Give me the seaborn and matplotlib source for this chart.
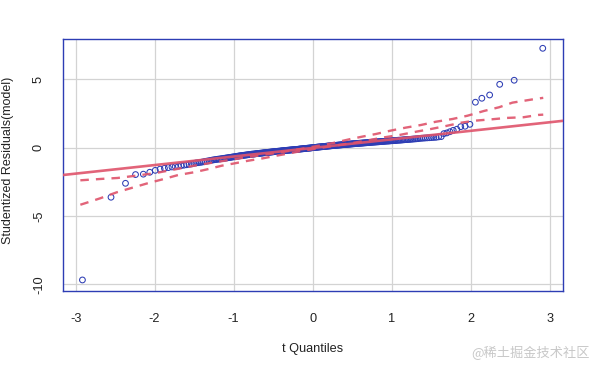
#!/usr/bin/env python3
"""
QQ plot of studentized residuals (t quantiles) with envelope
"""
import statistics
import numpy as np
import pandas as pd
import matplotlib
matplotlib.use('Agg')
import matplotlib.pyplot as plt
import seaborn as sns

# sorted studentized residuals
resid = [
    -9.69, -3.63, -2.61, -1.97, -1.94, -1.80, -1.66, -1.57, -1.51, -1.46,
    -1.41, -1.38, -1.35, -1.31, -1.28, -1.25, -1.22, -1.19, -1.15, -1.12,
    -1.10, -1.08, -1.06, -1.03, -1.00, -0.98, -0.96, -0.93, -0.91, -0.89,
    -0.87, -0.86, -0.84, -0.83, -0.81, -0.80, -0.78, -0.77, -0.75, -0.74,
    -0.72, -0.71, -0.70, -0.68, -0.67, -0.66, -0.64, -0.63, -0.62, -0.60,
    -0.59, -0.58, -0.57, -0.56, -0.55, -0.54, -0.53, -0.52, -0.51, -0.50,
    -0.49, -0.48, -0.47, -0.47, -0.46, -0.45, -0.44, -0.43, -0.43, -0.42,
    -0.41, -0.40, -0.40, -0.39, -0.38, -0.37, -0.37, -0.36, -0.35, -0.35,
    -0.34, -0.33, -0.33, -0.32, -0.31, -0.31, -0.30, -0.29, -0.29, -0.28,
    -0.28, -0.27, -0.26, -0.26, -0.25, -0.25, -0.24, -0.23, -0.23, -0.22,
    -0.22, -0.21, -0.21, -0.20, -0.19, -0.19, -0.18, -0.18, -0.17, -0.17,
    -0.16, -0.16, -0.15, -0.15, -0.14, -0.14, -0.13, -0.13, -0.12, -0.12,
    -0.11, -0.10, -0.10, -0.09, -0.09, -0.08, -0.08, -0.07, -0.07, -0.06,
    -0.05, -0.05, -0.04, -0.04, -0.03, -0.03, -0.02, -0.02, -0.01, 0.00,
    0.00, 0.01, 0.01, 0.02, 0.02, 0.03, 0.04, 0.04, 0.05, 0.05,
    0.06, 0.06, 0.07, 0.07, 0.08, 0.08, 0.09, 0.09, 0.10, 0.11,
    0.11, 0.12, 0.12, 0.13, 0.13, 0.14, 0.14, 0.15, 0.15, 0.16,
    0.16, 0.17, 0.17, 0.18, 0.18, 0.19, 0.19, 0.20, 0.20, 0.21,
    0.21, 0.22, 0.22, 0.23, 0.23, 0.24, 0.24, 0.25, 0.25, 0.26,
    0.26, 0.27, 0.27, 0.28, 0.28, 0.29, 0.29, 0.30, 0.30, 0.31,
    0.31, 0.32, 0.32, 0.33, 0.33, 0.34, 0.34, 0.35, 0.35, 0.36,
    0.36, 0.37, 0.37, 0.38, 0.39, 0.39, 0.40, 0.40, 0.41, 0.41,
    0.42, 0.42, 0.43, 0.43, 0.44, 0.45, 0.45, 0.46, 0.46, 0.47,
    0.48, 0.48, 0.49, 0.49, 0.50, 0.51, 0.51, 0.52, 0.52, 0.53,
    0.54, 0.55, 0.55, 0.56, 0.57, 0.58, 0.59, 0.59, 0.60, 0.61,
    0.62, 0.63, 0.64, 0.65, 0.66, 0.68, 0.69, 0.70, 0.71, 0.72,
    0.73, 0.74, 0.75, 0.76, 0.79, 0.81, 1.03, 1.08, 1.17, 1.27,
    1.35, 1.54, 1.57, 1.71, 3.33, 3.62, 3.86, 4.64, 4.94, 7.28,
]

# simulated 95% envelope (dashed)
upper_x = [-2.94, -2.68, -2.47, -2.26, -2.00, -1.75, -1.50, -1.25, -1.00, -0.75,
           -0.50, -0.25, 0.00, 0.25, 0.47, 0.63, 0.80, 0.99, 1.18, 1.37,
           1.56, 1.77, 1.96, 2.17, 2.36, 2.53, 2.82, 2.92]
upper_y = [-2.39, -2.29, -2.22, -2.07, -1.87, -1.60, -1.32, -1.08, -0.85, -0.63,
           -0.42, -0.19, 0.06, 0.33, 0.62, 0.81, 1.00, 1.25, 1.47, 1.66,
           1.90, 2.10, 2.34, 2.69, 2.96, 3.30, 3.57, 3.65]
lower_x = [-2.94, -2.88, -2.69, -2.48, -2.28, -2.09, -1.90, -1.70, -1.49, -1.33,
           -1.15, -0.98, -0.81, -0.63, -0.46, -0.29, -0.12, 0.10, 0.34, 0.53,
           0.72, 0.91, 1.10, 1.31, 1.50, 1.69, 1.88, 2.06, 2.27, 2.46,
           2.67, 2.86, 2.92]
lower_y = [-4.18, -4.07, -3.71, -3.27, -2.93, -2.61, -2.32, -2.00, -1.79, -1.58,
           -1.32, -1.14, -0.95, -0.78, -0.59, -0.41, -0.22, -0.02, 0.20, 0.37,
           0.56, 0.76, 0.93, 1.17, 1.37, 1.59, 1.83, 1.98, 2.08, 2.18,
           2.23, 2.40, 2.42]

# robust reference line: intercept, slope
line_coef = [-0.02, 0.627]

x_ticks = [-3, -2, -1, 0, 1, 2, 3]
y_ticks = [-10, -5, 0, 5]

BLUE = '#2d3db4'
RED = '#DF536B'

sns.set_theme(style='whitegrid')
plt.rcParams['font.family'] = ['Liberation Sans', 'DejaVu Sans']

n = len(resid)
nd = statistics.NormalDist()
tq = [nd.inv_cdf((i + 0.5) / n) for i in range(n)]
df = pd.DataFrame({'tq': tq, 'resid': np.sort(resid)})

fig = plt.figure(figsize=(5.93, 3.65), dpi=100)
ax = fig.add_axes([0.1062, 0.2027, 0.8432, 0.6904])

sns.scatterplot(data=df, x='tq', y='resid', ax=ax, marker='o', s=17,
                facecolor='none', edgecolor=BLUE, linewidth=0.75, zorder=3)

ax.axline((0, line_coef[0]), slope=line_coef[1], color=RED, lw=1.9,
          alpha=0.9, zorder=4)
sns.lineplot(x=upper_x, y=upper_y, ax=ax, color=RED, lw=1.7, alpha=0.9,
             linestyle=(0, (3.6, 3.0)), estimator=None, sort=False, zorder=4)
sns.lineplot(x=lower_x, y=lower_y, ax=ax, color=RED, lw=1.7, alpha=0.9,
             linestyle=(0, (3.6, 3.0)), estimator=None, sort=False, zorder=4)

ax.set_xlim(-3.16, 3.17)
ax.set_ylim(-10.5, 7.96)
ax.set_xticks(x_ticks)
ax.set_yticks(y_ticks)
ax.set_xticklabels([str(t) for t in x_ticks])
ax.set_yticklabels([str(t) for t in y_ticks], rotation=90, va='center')

ax.grid(True, color='#d3d3d3', lw=0.9)
for sp in ax.spines.values():
    sp.set_visible(True)
    sp.set_color(BLUE)
    sp.set_linewidth(1.0)
ax.tick_params(axis='both', direction='out', length=7, width=1.0,
               color=BLUE, labelcolor='#222222', labelsize=9.2)
ax.tick_params(axis='x', pad=9)
ax.tick_params(axis='y', pad=6)

ax.set_xlabel('t Quantiles', fontsize=9.2, color='#222222')
ax.set_ylabel('Studentized Residuals(model)', fontsize=9.0, color='#222222')
ax.xaxis.set_label_coords(0.5, -0.205)
ax.yaxis.set_label_coords(-0.097, 0.52)

fig.text(0.995, 0.034, '@稀土掘金技术社区', ha='right', va='center',
         fontsize=9.5, color='#c8c8c8',
         family=['Noto Sans CJK SC', 'DejaVu Sans'])

plt.savefig('out.png', dpi=100)
plt.close()
